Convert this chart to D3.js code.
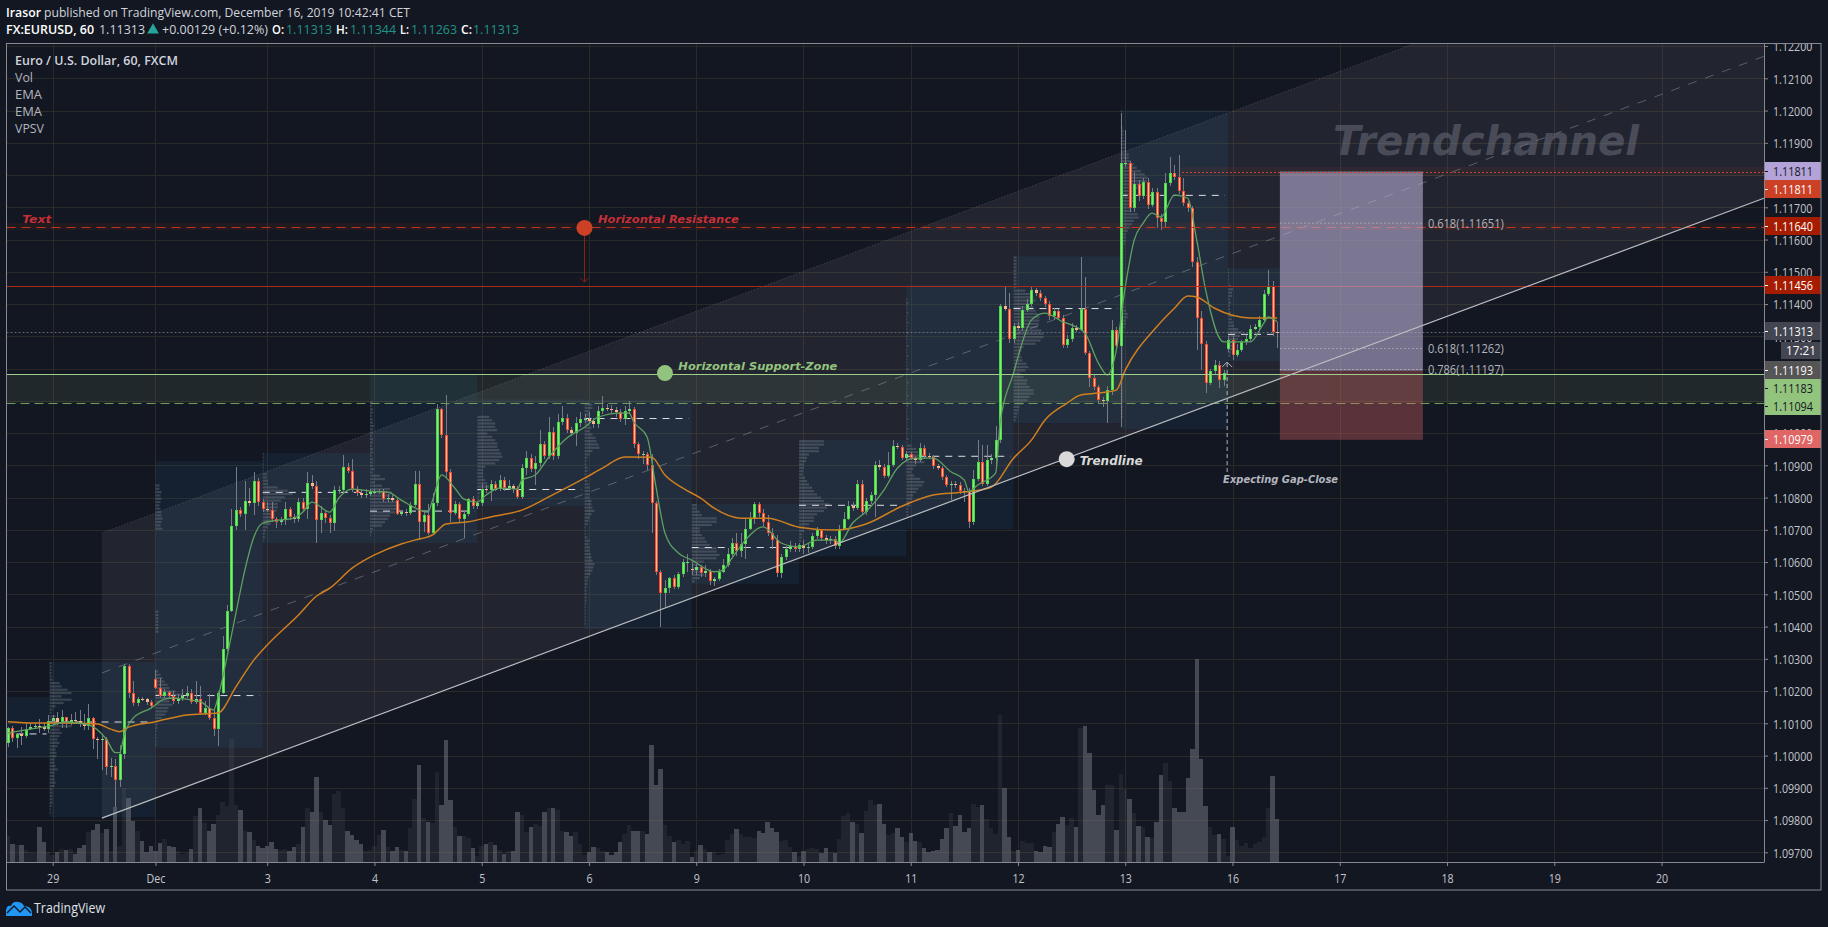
<!DOCTYPE html>
<html><head><meta charset="utf-8">
<style>html,body{margin:0;padding:0;background:#131722;overflow:hidden}svg{display:block}text{font-family:"Open Sans",sans-serif}</style>
<script src="https://cdn.jsdelivr.net/npm/d3@7"></script></head><body>
<svg id="c" width="1828" height="927"></svg>
<script>
// All prices in points above 1.10000 (1 point = 0.00001)
const firstOpen=39;
const gapBars=[33,153,273], gapOpens=[236,579,1262];
const closes=[85,55,66,62,81,87,91,88,83,106,
115,105,118,102,110,107,102,92,115,52,
50,51,-35,-33,-75,5,277,193,164,175,
174,167,154,211,184,196,184,169,179,185,
193,167,176,133,147,117,83,193,330,448,
711,761,749,789,783,851,787,766,762,734,
723,729,763,740,732,787,766,844,836,729,
751,738,722,822,823,894,883,826,813,808,
811,818,818,820,794,800,792,750,754,752,
777,842,724,746,689,782,1074,994,880,753,
779,732,749,794,773,783,828,824,841,828,
854,831,835,825,802,893,924,887,906,965,
928,1003,928,1035,1048,1011,1001,1030,1043,1044,
1038,1028,1067,1079,1075,1071,1065,1045,1069,1076,
967,935,936,900,782,570,505,518,552,523,
562,600,601,575,584,567,572,542,547,570,
591,624,658,635,655,704,733,780,751,725,
691,668,567,615,640,650,639,652,645,647,
680,698,676,667,672,650,704,735,773,768,
841,756,788,807,900,895,867,900,959,958,
924,934,923,916,955,929,925,898,892,864,
839,842,839,821,820,725,856,909,842,915,
924,978,1393,1385,1292,1331,1326,1381,1400,1443,
1435,1419,1399,1363,1377,1358,1273,1291,1325,1320,
1386,1249,1171,1144,1103,1099,1133,1321,1269,1836,
1836,1698,1771,1734,1777,1707,1746,1668,1655,1774,
1805,1794,1752,1714,1698,1529,1358,1275,1156,1191,
1210,1166,1185,1290,1242,1257,1281,1293,1324,1328,
1350,1431,1456,1314,1313];
const highs=[90,92,70,88,100,100,100,113,100,125,
125,135,140,120,130,135,140,130,160,118,
58,65,56,-8,-10,33,285,285,232,182,
182,180,172,265,240,205,200,200,190,205,
215,205,232,215,170,190,145,200,370,466,
765,895,770,850,830,880,860,795,785,785,
740,740,785,770,748,800,800,880,870,850,
775,760,745,835,835,932,906,920,835,825,
825,828,826,828,828,810,808,800,762,765,
785,883,883,760,780,815,1090,1078,1118,890,
790,785,760,800,805,790,842,840,855,850,
870,865,855,842,835,905,945,935,930,1010,
975,1050,1020,1060,1085,1060,1020,1050,1066,1060,
1065,1048,1085,1115,1090,1088,1082,1075,1085,1100,
1082,972,945,940,936,790,575,545,555,560,
570,610,625,600,595,590,590,578,555,580,
610,643,674,690,690,735,756,785,785,765,
745,705,685,625,650,665,660,660,668,660,
690,709,702,685,682,680,715,755,790,785,
855,855,800,818,912,915,905,942,980,968,
962,945,942,930,970,962,938,932,905,898,
870,850,850,848,830,830,885,978,962,962,
935,1021,1400,1453,1435,1340,1345,1395,1415,1452,
1450,1445,1425,1410,1388,1385,1365,1305,1340,1335,
1546,1484,1255,1180,1150,1112,1145,1350,1330,1991,
1939,1845,1810,1785,1790,1790,1760,1760,1680,1806,
1856,1830,1861,1790,1720,1705,1545,1378,1285,1200,
1225,1222,1195,1300,1300,1275,1290,1305,1335,1338,
1362,1445,1505,1470,1344];
const lows=[25,43,23,33,55,78,83,70,75,70,
100,95,85,85,95,100,90,80,80,20,
-10,-45,-60,-68,-160,-96,-10,178,155,155,
168,158,148,205,178,178,178,160,160,170,
180,160,160,128,125,110,60,30,190,325,
445,700,740,700,775,745,775,755,755,725,
705,715,715,730,722,725,755,735,825,660,
690,720,690,695,810,815,875,818,805,800,
800,805,810,812,785,785,785,745,742,742,
745,770,668,694,683,683,775,985,860,725,
745,725,674,742,765,765,775,815,790,820,
820,820,825,815,795,795,870,880,840,895,
920,920,915,920,1025,1000,990,960,1020,1030,
1030,1015,1015,1060,1068,1062,1050,1035,1025,1060,
955,920,905,885,690,560,399,460,505,515,
515,555,570,560,560,555,555,530,525,540,
565,585,620,620,616,611,700,717,740,712,
680,640,553,550,605,630,630,630,625,628,
640,672,665,655,655,640,640,698,730,758,
760,745,745,780,740,885,860,860,895,950,
915,915,915,905,910,920,918,890,885,855,
832,792,830,812,787,705,715,850,835,835,
905,895,970,1378,1280,1280,1318,1315,1375,1395,
1425,1410,1390,1352,1350,1350,1265,1265,1283,1312,
1315,1243,1143,1135,1090,1080,1032,1118,1260,1019,
1825,1685,1685,1720,1725,1695,1700,1636,1630,1640,
1765,1785,1740,1705,1685,1515,1257,1195,1124,1148,
1180,1139,1145,1250,1226,1235,1250,1272,1285,1318,
1320,1345,1425,1300,1263];
const volumes=[26,18,17,17,12,10,9,35,20,10,
7,10,13,12,13,8,14,17,30,32,
38,29,33,11,55,16,74,64,41,31,
21,10,16,11,19,23,16,15,11,8,
9,13,46,54,39,31,38,47,60,56,
123,57,52,31,30,22,16,14,16,20,
13,12,13,11,15,18,35,54,50,85,
50,42,37,68,71,54,31,27,22,18,
11,12,16,27,32,15,11,15,12,11,
34,63,97,44,40,39,90,57,122,62,
35,26,26,24,14,6,16,18,20,17,
12,8,11,11,50,47,30,35,38,36,
50,54,54,52,31,30,26,30,18,7,
10,15,14,11,10,7,10,20,28,37,
31,31,31,28,117,77,93,37,26,20,
22,18,21,5,11,17,13,10,10,7,
8,22,28,33,28,25,25,24,31,29,
40,34,30,21,22,15,10,6,11,13,
14,13,9,14,10,9,23,46,49,40,
38,29,51,62,57,58,38,27,29,34,
25,20,29,21,20,14,10,11,12,23,
34,49,36,47,30,34,58,55,57,43,
34,28,147,74,25,11,12,21,19,19,
11,10,16,15,30,38,45,37,44,35,
134,136,109,72,47,57,77,77,32,88,
73,63,49,36,35,25,24,40,87,99,
81,54,50,50,84,113,203,103,56,35,
27,28,23,6,35,22,16,19,14,18,
20,25,54,86,43];
if(closes.length!==285||highs.length!==285||lows.length!==285||volumes.length!==285) throw new Error("len "+[closes.length,highs.length,lows.length,volumes.length]);

const fastBars=[0,5,9,13,18,22,24,25,26,28,32,35,37,43,46,47,49,51,53,55,57,59,64,66,68,72,74,77,81,85,88,94,95,97,100,102,105,107,110,114,115,118,121,125,129,132,137,139,140,143,145,147,150,153,158,160,162,165,169,173,177,181,185,186,189,192,196,199,203,207,211,214,215,217,221,222,225,226,229,232,236,239,241,244,246,248,250,252,254,256,258,261,264,266,268,272,274,278,281,282,284];
const fastEma=[70,82,91,104,95,51,9,9,64,116,147,175,178,167,141,181,305,442,575,677,721,727,736,755,786,755,798,826,820,817,792,755,792,870,829,795,786,808,829,826,854,870,925,984,1018,1049,1062,1062,1035,988,833,690,628,606,570,575,612,668,709,659,647,668,668,659,721,756,823,891,922,922,880,854,818,839,876,1031,1186,1236,1350,1372,1345,1329,1310,1217,1180,1257,1453,1598,1651,1682,1670,1738,1728,1598,1443,1283,1283,1283,1341,1360,1345];
const slowBars=[0,6,13,20,23,25,27,33,40,47,51,55,58,65,69,72,77,82,88,91,95,98,103,108,115,121,129,133,138,144,147,151,155,158,164,170,177,185,192,200,207,214,220,225,229,232,237,240,244,248,250,257,261,264,266,270,274,278,284];
const slowEma=[105,101,101,98,82,74,88,105,126,132,213,296,343,436,494,519,581,622,656,668,684,718,725,740,761,802,860,891,926,925,870,829,798,767,736,736,708,699,718,773,808,817,832,922,978,1040,1093,1118,1124,1133,1195,1329,1387,1425,1422,1387,1365,1357,1357];

const sessionEdges=[-1,9.3,33,57,81,105,129,153,177,201,225,249,273,284.6];
const sessionTops=[181,290,913,938,1180,1105,1102,780,978,1459,1548,2001,1511];
const sessionBottoms=[-8,-191,23,659,659,773,392,532,618,702,1031,1012,1223];
const sessionPOC=[67,104,186,816,758,825,1045,645,776,928,1386,1737,1306];
const vp=[[],
[2,2,2,2,2,3,10,12,18,22,12,22,14,6,3,2,6,10,20,22,10,12,10,8,10,8,6,7,7,5,5,6,8,5,5,5,6,5,3,3,3,3,3,2,1,1],
[0,0,0,0,0,0,0,4,4,6,5,6,5,4,5,6,6,7,6,5,7,0,0,0,0,0,0,0,0,0,0,0,0,0,0,0,0,0,0,0,0,0,0,0,0,3,3,3,3,3,3,3,0,0,0,0,0,0,0,0,0,0,0,3,5,7,9,12,14,20,28,22,14,17,13,12,10,6,3,2,2,1,1,1,1,1],
[1,1,1,1,1,1,4,4,5,5,15,25,30,22,18,15,15,14,12,12,10,8,5,3,2,2,1],
[0,0,0,0,0,0,0,0,3,2,3,3,2,3,3,4,3,3,2,3,3,2,3,3,2,3,3,3,4,3,10,15,5,12,20,22,20,25,28,30,30,25,20,18,15,12,3,2,1],
[0,0,0,0,0,12,15,18,18,20,10,15,18,20,20,22,24,25,22,18,8,6,6,6,8,10,12,5,3,2,2],
[0,8,8,5,5,4,5,5,7,5,8,11,12,14,15,8,5,3,2,2,3,3,2,3,3,4,5,5,5,5,7,7,8,10,7,5,4,3,1,1,1,3,5,4,5,5,6,7,8,10,9,8,6,4,3,3,2,2,2,2,2,1,1,1,1,1,1,1],
[5,5,8,10,25,25,20,8,8,10,13,15,18,25,25,28,25,12,6,8,10,12,8,3],
[25,25,20,20,10,8,7,5,5,4,4,6,8,10,13,15,18,22,25,30,28,25,18,15,15,10,5,5,3,3,2,1],
[0,0,0,0,1,2,1,1,2,1,1,2,1,1,2,1,1,1,2,1,1,2,1,1,1,2,1,1,1,2,1,1,1,2,1,1,2,1,1,1,2,1,1,2,1,1,2,1,5,10,12,20,17,18,10,7,5,8,14,18,16,12,10,7,6,5,4,2,2,2],
[3,3,3,3,3,3,3,3,3,3,12,18,20,22,18,20,22,24,26,26,25,24,28,30,30,27,22,10,8,7,8,9,13,15,12,7,10,14,13,16,20,20,16,14,10,6,5,4,3,2],
[1,1,1,1,1,2,3,3,3,4,5,5,6,8,8,10,13,16,20,24,27,26,22,17,15,14,15,13,9,9,11,17,18,13,11,9,7,5,5,5,4,3,3,3,3,3,3,3,3,3,3,3,3,3,3,3,3,3,3,4,5,7,7,5,5,4,3,2,2,2,2,2,2,2,2,2,2,2,2,2,2,2,2,2,2,2,2,2,2,2,2,2,2],
[1,1,1,1,1,3,5,4,4,2,3,2,2,3,5,4,5,6,10,14,12,10,8,6,5,3,2]];

const timeTickBars=[10,33,58,82,106,130,154,178,202,226,250,274,298,322,346,370];
const timeTickLabels=["29","Dec","3","4","5","6","9","10","11","12","13","16","17","18","19","20"];
const priceTicks=[1.097,1.098,1.099,1.1,1.101,1.102,1.103,1.104,1.105,1.106,1.107,1.108,1.109,1.11,1.111,1.112,1.113,1.114,1.115,1.116,1.117,1.118,1.119,1.12,1.121,1.122];
const coveredTicks=[1.111,1.112,1.118];

const channelBars=[21,392.9];
const channelLower=[-194,1728];
const channelUpper=[690,2612];
const channelMiddle=[256,2168];
const longBars=[284.6,316.6];
const longTarget=1811, longEntry=1193, longStop=979;
const fibLevels=[1651,1262,1197];
const fibTexts=["0.618(1.11651)","0.618(1.11262)","0.786(1.11197)"];
const resistanceDashed=1640, resistanceSolid=1456, supportSolid=1183, supportDashed=1094, lastPrice=1313;
const priceTagValues=[1811,1811,1640,1456,1313,1193,1183,1094,979];
const priceTagBarsCenter=[171,189,226,285,331,370,388,406,439];

const W=1828,H=927,L=6.5,T=44,R=1764,B=862,RO=1821,BO=890.5;
const P=v=>1.1+v/1e5;
const x=d3.scaleLinear().domain([0,284]).range([8,8+284*4.469]);
const y=d3.scaleLinear().domain([1.097,1.122]).range([852.3,46.05]);
const yp=v=>y(P(v));
const yVol=d3.scaleLinear().domain([0,203]).range([B,B-203]);
const wVp=d3.scaleLinear().domain([0,30]).range([0,30]);
const svg=d3.select("#c");
const GRID="#2a2a28",BORD="#868993",LABEL="#c3c6cc";
svg.append("rect").attr("width",W).attr("height",H).attr("fill","#131722");
const defs=svg.append("defs");
defs.append("clipPath").attr("id","pane").append("rect").attr("x",L).attr("y",T).attr("width",R-L).attr("height",B-T);
defs.append("clipPath").attr("id","ax").append("rect").attr("x",R).attr("y",T).attr("width",RO-R).attr("height",B-T);
const g=svg.append("g").attr("clip-path","url(#pane)");

function txt(par,s,tx,ty,o={}){
 const t=par.append("text").attr("x",tx).attr("y",ty).text(s)
  .attr("font-size",o.size||13).attr("fill",o.fill||LABEL).attr("font-weight",o.weight||400);
 if(o.family)t.style("font-family",o.family);
 if(o.italic)t.attr("font-style","italic");
 if(o.len){t.attr("textLength",o.len).attr("lengthAdjust","spacingAndGlyphs");}
 if(o.anchor)t.attr("text-anchor",o.anchor);
 return t;
}
// grid
g.append("g").selectAll("line").data(priceTicks).join("line").attr("x1",L).attr("x2",R)
 .attr("y1",d=>Math.round(y(d))+.5).attr("y2",d=>Math.round(y(d))+.5).attr("stroke",GRID);
g.append("g").selectAll("line").data(timeTickBars).join("line").attr("y1",T).attr("y2",B)
 .attr("x1",d=>Math.round(x(d))+.5).attr("x2",d=>Math.round(x(d))+.5).attr("stroke",GRID);

// trend channel
const chan=d3.line().x(d=>x(d[0])).y(d=>yp(d[1]));
const ptsOf=a=>channelBars.map((b,i)=>[b,a[i]]);
g.append("path").attr("d",chan([...ptsOf(channelLower),...ptsOf(channelUpper).reverse()])+"Z").attr("fill","rgba(120,123,134,.15)");

// session boxes
const sessions=sessionTops.map((t,i)=>({i,t,b:sessionBottoms[i],x0:x(sessionEdges[i]),x1:x(sessionEdges[i+1]),poc:sessionPOC[i],rows:vp[i]}));
g.append("g").selectAll("rect").data(sessions).join("rect").attr("x",d=>d.x0).attr("width",d=>d.x1-d.x0)
 .attr("y",d=>yp(d.t)).attr("height",d=>yp(d.b)-yp(d.t)).attr("fill","rgba(40,110,160,.12)");

// zones
g.append("rect").attr("x",L).attr("width",R-L).attr("y",yp(supportSolid)).attr("height",yp(supportDashed)-yp(supportSolid)).attr("fill","rgba(147,196,125,.1)");
g.append("rect").attr("x",L).attr("width",R-L).attr("y",yp(resistanceDashed+11)).attr("height",yp(resistanceDashed-11)-yp(resistanceDashed+11)).attr("fill","rgba(204,65,37,.09)");
g.append("rect").attr("x",x(longBars[0])-100).attr("width",R-x(longBars[0])+100).attr("y",yp(longTarget+14)).attr("height",yp(longTarget-14)-yp(longTarget+14)).attr("fill","rgba(204,65,37,.08)");

// volume profile
const rowStep=10.3;
sessions.forEach(s=>{
 g.append("g").selectAll("rect").data(s.rows).join("rect").attr("x",s.x0).attr("width",d=>wVp(d))
  .attr("y",(d,r)=>yp(s.t-r*rowStep)).attr("height",2.2).attr("fill","rgba(170,175,185,.24)");
});

// volume
const bars=closes.map((c,i)=>{
 const gi=gapBars.indexOf(i);
 const o=i===0?firstOpen:(gi>=0?gapOpens[gi]:closes[i-1]);
 return {i,o,c,h:highs[i],l:lows[i],v:volumes[i]};
});
g.append("g").selectAll("rect").data(bars).join("rect").attr("x",d=>x(d.i)-2.235).attr("width",4.469)
 .attr("y",d=>yVol(d.v)).attr("height",d=>B-yVol(d.v)).attr("fill",d=>d.c>=d.o?"rgba(120,123,134,.13)":"rgba(120,123,134,.5)").attr("shape-rendering","crispEdges");

// POC dashed
g.append("g").selectAll("line").data(sessions).join("line").attr("x1",d=>d.x0).attr("x2",d=>d.x1-3)
 .attr("y1",d=>yp(d.poc)).attr("y2",d=>yp(d.poc)).attr("stroke","#dfe1e6").attr("stroke-dasharray","7 6").attr("stroke-width",1);

// mid + border lines of channel
g.append("path").attr("d",chan(ptsOf(channelUpper))).attr("fill","none").attr("stroke","rgba(200,200,210,.25)").attr("stroke-dasharray","1 2");
g.append("path").attr("d",chan(ptsOf(channelMiddle))).attr("fill","none").attr("stroke","rgba(150,153,163,.5)").attr("stroke-dasharray","9 9");

// candles
const cx=i=>Math.round(x(i));
const cg=g.append("g").attr("shape-rendering","crispEdges");
cg.selectAll("line").data(bars).join("line").attr("x1",d=>cx(d.i)+.5).attr("x2",d=>cx(d.i)+.5)
 .attr("y1",d=>yp(d.h)).attr("y2",d=>yp(d.l)).attr("stroke","#787b86");
const bh=d=>Math.max(1,Math.abs(yp(d.c)-yp(d.o)));
const bt=d=>Math.min(yp(d.c),yp(d.o));
cg.selectAll("rect.o").data(bars).join("rect").attr("class","o").attr("x",d=>cx(d.i)-1).attr("width",3)
 .attr("y",bt).attr("height",bh)
 .attr("fill",d=>d.c>=d.o?(bh(d)<3.5?"#6fe06f":"#4fd64f"):(bh(d)<3.5?"#ffb48c":"#fb4a2c"));
cg.selectAll("rect.i").data(bars.filter(d=>bh(d)>=3.5)).join("rect").attr("class","i").attr("x",d=>cx(d.i)).attr("width",1)
 .attr("y",d=>bt(d)+1).attr("height",d=>bh(d)-2).attr("fill",d=>d.c>=d.o?"#7df06c":"#ffc09a");

// EMAs
const line=d3.line().x(d=>x(d[0])).y(d=>yp(d[1])).curve(d3.curveMonotoneX);
g.append("path").attr("d",line(slowBars.map((b,i)=>[b,slowEma[i]]))).attr("fill","none").attr("stroke","#d07f1e").attr("stroke-width",1.5);
g.append("path").attr("d",line(fastBars.map((b,i)=>[b,fastEma[i]]))).attr("fill","none").attr("stroke","#5fa060").attr("stroke-width",1.3);

// horizontal lines
const hl=(v,col,dash,x0=L)=>g.append("line").attr("x1",x0).attr("x2",R).attr("y1",Math.round(yp(v))+.5).attr("y2",Math.round(yp(v))+.5).attr("stroke",col).attr("stroke-dasharray",dash||null);
hl(lastPrice,"rgba(160,163,175,.55)","2 2");
hl(resistanceSolid,"#ad2a18");
hl(resistanceDashed,"#c2331b","9 6");
hl(supportDashed,"#6f9c5c","9 5");
// long position
g.append("rect").attr("x",x(longBars[0])).attr("width",x(longBars[1])-x(longBars[0])).attr("y",yp(longTarget)).attr("height",yp(longEntry)-yp(longTarget)).attr("fill","rgba(188,178,216,.58)");
g.append("rect").attr("x",x(longBars[0])).attr("width",x(longBars[1])-x(longBars[0])).attr("y",yp(longEntry)).attr("height",yp(longStop)-yp(longEntry)).attr("fill","rgba(224,102,102,.35)");
g.append("g").selectAll("line").data(fibLevels).join("line").attr("x1",x(longBars[0])).attr("x2",x(longBars[1]))
 .attr("y1",d=>yp(d)).attr("y2",d=>yp(d)).attr("stroke","rgba(210,210,220,.5)").attr("stroke-dasharray","2 2");
fibTexts.forEach((s,i)=>txt(g,s,x(longBars[1])+5,yp(fibLevels[i])+4.5,{size:13,fill:"#b2b5be",len:76}));
hl(longTarget,"#c0452f","2 2",x(262.7));
hl(supportSolid,"#9fd08a");
g.append("path").attr("d",chan(ptsOf(channelLower))).attr("fill","none").attr("stroke","#bcbec2").attr("stroke-width",1.2);

// annotations
const FONT='"DejaVu Sans",sans-serif';
const bi={weight:700,italic:true,family:FONT};
g.append("line").attr("x1",x(129)).attr("x2",x(129)).attr("y1",yp(1636)).attr("y2",yp(1468)).attr("stroke","#8a2214");
g.append("path").attr("d",`M${x(129)-4},${yp(1468)-4}L${x(129)},${yp(1468)}L${x(129)+4},${yp(1468)-4}`).attr("fill","none").attr("stroke","#8a2214");
g.append("circle").attr("cx",x(129)).attr("cy",yp(1636)).attr("r",8).attr("fill","#cc4125");
g.append("circle").attr("cx",x(147)).attr("cy",yp(1186)).attr("r",8).attr("fill","#93c47d");
g.append("circle").attr("cx",x(236.9)).attr("cy",yp(919)).attr("r",8).attr("fill","#d9d9d9");
txt(g,"Text",x(3.2),yp(1651),{...bi,size:11,fill:"#c62f36",len:29});
txt(g,"Horizontal Resistance",x(132),yp(1651),{...bi,size:11,fill:"#c62f36",len:141});
txt(g,"Horizontal Support-Zone",x(150),yp(1195),{...bi,size:11,fill:"#93c47d",len:159});
txt(g,"Trendline",x(239.8),yp(900),{...bi,size:12,fill:"#d9d9d9",len:63});
txt(g,"Expecting Gap-Close",x(271.9),yp(845),{...bi,size:10,fill:"#b2b5be",len:115});
txt(g,"Trendchannel",x(296.5),yp(1861),{...bi,size:40,fill:"rgba(125,128,140,.45)",len:306});
g.append("line").attr("x1",x(272.8)).attr("x2",x(272.8)).attr("y1",yp(1217)).attr("y2",yp(879)).attr("stroke","#b2b5be").attr("stroke-dasharray","4 3");
g.append("path").attr("d",`M${x(272.8)-5},${yp(1217)+4}L${x(272.8)},${yp(1217)-1}L${x(272.8)+5},${yp(1217)+4}`).attr("fill","none").attr("stroke","#b2b5be");

// axes
const axY=svg.append("g").attr("clip-path","url(#ax)").append("g").attr("transform",`translate(${R},0)`)
 .call(d3.axisRight(y).tickValues(priceTicks).tickFormat(d=>coveredTicks.includes(d)?"":d3.format(".5f")(d)).tickSize(4));
axY.select(".domain").remove();
axY.selectAll("line").attr("stroke","#868993");
axY.selectAll("text").attr("x",0).attr("dy",null).attr("y",4.8).attr("font-size",13).attr("fill",LABEL).attr("transform","translate(9,0) scale(.82,1)").style("font-family",'"Open Sans",sans-serif');
const axX=svg.append("g").attr("transform",`translate(0,${B})`)
 .call(d3.axisBottom(x).tickValues(timeTickBars).tickFormat((d,i)=>timeTickLabels[i]).tickSize(4));
axX.select(".domain").remove();
axX.selectAll("line").attr("stroke","#868993");
axX.selectAll("text").attr("x",0).attr("y",21).attr("dy",null).attr("font-size",13).attr("fill",LABEL).attr("text-anchor","middle").style("font-family",'"Open Sans",sans-serif').attr("transform","scale(.82,1)");

// price tags
const tagFill=["#b3a3d8","#cc4125","#a61c00","#a61c00","#434651","#555555","#93c47d","#93c47d","#e06666"];
const tagText=["#131722","#fff","#fff","#fff","#fff","#fff","#131722","#131722","#fff"];
const tg=svg.append("g");
priceTagValues.forEach((v,i)=>{
 const c=priceTagBarsCenter[i];
 tg.append("rect").attr("x",R).attr("y",c-9).attr("width",RO-R).attr("height",18).attr("fill",tagFill[i]);
 tg.append("line").attr("x1",R).attr("x2",R+4).attr("y1",c+.5).attr("y2",c+.5).attr("stroke",tagText[i]==="#fff"?"#fff":"#131722");
 txt(tg,d3.format(".5f")(P(v)),R+9,c+4.8,{fill:tagText[i],len:40});
});
tg.append("rect").attr("x",1781).attr("y",342).attr("width",RO-1781).attr("height",17).attr("fill","#434651");
txt(tg,"17:21",1786,355,{fill:"#fff",len:30});

// frame
svg.append("rect").attr("x",L).attr("y",T-.5).attr("width",RO-L).attr("height",BO-T).attr("fill","none").attr("stroke",BORD);
svg.append("line").attr("x1",R+.5).attr("x2",R+.5).attr("y1",T).attr("y2",B).attr("stroke",BORD);
svg.append("line").attr("x1",L).attr("x2",R+.5).attr("y1",B+.5).attr("y2",B+.5).attr("stroke",BORD);

// header
txt(svg,"Irasor",6,17,{fill:"#fff",weight:600,len:35});
txt(svg,"published on TradingView.com, December 16, 2019 10:42:41 CET",44,17,{fill:"#d1d4dc",len:366});
txt(svg,"FX:EURUSD, 60",6,34,{fill:"#fff",weight:600,len:88});
txt(svg,"1.11313",99,34,{fill:"#d1d4dc",len:46});
svg.append("path").attr("d",d3.symbol(d3.symbolTriangle,60)()).attr("transform","translate(153,30)").attr("fill","#26a69a");
txt(svg,"+0.00129 (+0.12%)",162,34,{fill:"#d1d4dc",len:106});
[["O:",272,12,"1.11313",286],["H:",336,12,"1.11344",350],["L:",400,9,"1.11263",411],["C:",461,11,"1.11313",473]].forEach(r=>{
 txt(svg,r[0],r[1],34,{fill:"#fff",weight:600,len:r[2]});
 txt(svg,r[3],r[4],34,{fill:"#1f9488",len:46});
});
// pane legend
txt(svg,"Euro / U.S. Dollar, 60, FXCM",15,65,{fill:"#d1d4dc",weight:600,len:163});
[["Vol",82,18],["EMA",99,27],["EMA",116,27],["VPSV",133,29]].forEach(r=>txt(svg,r[0],15,r[1],{fill:"#b2b5be",len:r[2]}));
// brand
svg.append("path").attr("d","M6,916L6,910Q7,905 11,906Q13,901 18,902Q22,902 24,906Q31,906 32,912L32,916Z").attr("fill","#2196f3");
svg.append("path").attr("d","M7,913L14,906L20,912L25,907L31,913").attr("fill","none").attr("stroke","#131722").attr("stroke-width",1.3);
txt(svg,"TradingView",34,913,{fill:"#dfe1e6",size:14,len:71});
</script></body></html>
